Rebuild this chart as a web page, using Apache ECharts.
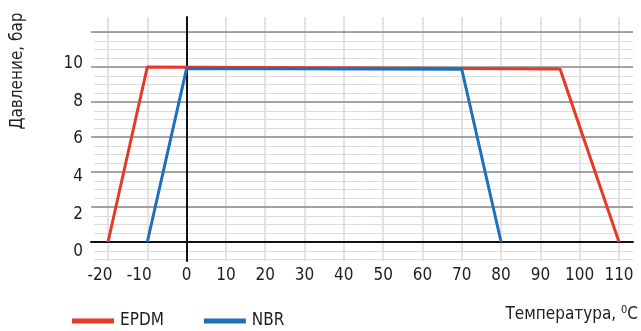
<!DOCTYPE html>
<html>
<head>
<meta charset="utf-8">
<script src="https://cdn.jsdelivr.net/npm/echarts@6/dist/echarts.min.js"></script>
<style>html,body{margin:0;padding:0;background:#fff}#c{width:641px;height:331px}</style>
</head>
<body>
<div id="c"></div>
<script>
// ---- data ----
const seriesNames = ['EPDM', 'NBR'];
const epdmData = [[-20, 0], [-10, 10], [95, 9.88], [110, 0]];
const nbrData = [[-10, 0], [0, 9.92], [70, 9.87], [80, 0]];
const xTicks = { min: -20, max: 110, step: 10 };
const yTicks = { min: 0, max: 10, step: 2 };
const xTitle = 'Температура, ';
const xTitleSup = '0';
const xTitleUnit = 'C';
const yTitle = 'Давление, бар';

const FONT = '"Liberation Sans Narrow", "DejaVu Sans Condensed", "Roboto Condensed", sans-serif';
const FS = 17;
const TXT = '#1e1e1e';
const RED = '#e5392a';
const BLUE = '#1f6fba';

const chart = echarts.init(document.getElementById('c'), null, { renderer: 'canvas' });
const hidden = { show: false };
chart.setOption({
  animation: false,
  backgroundColor: '#fff',
  grid: [
    { left: 108, right: 22, top: 17, bottom: 70 },      // 0 data grid
    { left: 94, right: 8, top: 32, bottom: 71.5 },      // 1 minor horizontal lines
    { left: 91, right: 8, top: 32, bottom: 89 },        // 2 major horizontal lines + baseline
    { left: 94, right: 8, top: 63.7, bottom: 79.3 }     // 3 y labels
  ],
  xAxis: [
    {
      gridIndex: 0, type: 'value', min: xTicks.min, max: xTicks.max, interval: xTicks.step, z: 0,
      axisLine: { show: false, onZero: false }, axisTick: hidden,
      splitLine: { show: true, lineStyle: { color: '#dadada', width: 1.5 } },
      axisLabel: {
        margin: 6, fontSize: FS, fontFamily: FONT, color: TXT,
        formatter: v => v < 0 ? '{n|' + v + '}' : String(v),
        rich: { n: { fontSize: FS, fontFamily: FONT, color: TXT, padding: [0, 16, 0, 0] } }
      }
    },
    { gridIndex: 1, type: 'value', min: 0, max: 1, show: false },
    {
      gridIndex: 2, type: 'value', min: 0, max: 1, z: 3,
      axisLine: { show: true, onZero: false, lineStyle: { color: '#111', width: 2 } },
      axisTick: hidden, axisLabel: hidden, splitLine: hidden
    },
    { gridIndex: 3, type: 'value', min: 0, max: 1, show: false }
  ],
  yAxis: [
    {
      gridIndex: 0, type: 'value', min: -19 / 17.5, max: 225 / 17.5, z: 4,
      axisLine: { show: true, onZero: true, lineStyle: { color: '#111', width: 2 } },
      axisTick: hidden, axisLabel: hidden, splitLine: hidden
    },
    {
      gridIndex: 1, type: 'value', min: -1, max: 12, interval: 0.5, z: 1,
      axisLine: hidden, axisTick: hidden, axisLabel: hidden,
      splitLine: { show: true, lineStyle: { color: '#dcdcdc', width: 1 } }
    },
    {
      gridIndex: 2, type: 'value', min: 0, max: 12, interval: 2, z: 2,
      axisLine: hidden, axisTick: hidden, axisLabel: hidden,
      splitLine: { show: true, lineStyle: { color: '#8a8a8a', width: 1.5 } }
    },
    {
      gridIndex: 3, type: 'value', min: yTicks.min, max: yTicks.max, interval: yTicks.step,
      axisLine: hidden, axisTick: hidden, splitLine: hidden,
      axisLabel: { margin: 11, fontSize: FS, fontFamily: FONT, color: TXT }
    }
  ],
  legend: {
    data: seriesNames, left: 72, top: 311, padding: 0, icon: 'rect',
    itemWidth: 42, itemHeight: 5, itemGap: 40,
    textStyle: { fontSize: FS, fontFamily: FONT, color: TXT, lineHeight: 20, padding: [0, 0, 0, 1] }
  },
  title: {
    text: xTitle + '{s|' + xTitleSup + '}' + xTitleUnit,
    right: 3, top: 304.5, padding: 0,
    textStyle: {
      fontSize: FS, fontWeight: 'normal', fontFamily: FONT, color: TXT, lineHeight: 20,
      rich: { s: { fontSize: 11, fontFamily: FONT, color: TXT, verticalAlign: 'top', lineHeight: 12 } }
    }
  },
  graphic: [{
    type: 'text', x: 18, y: 71, rotation: Math.PI / 2,
    style: { text: yTitle, font: FS + 'px ' + FONT, fill: TXT, textAlign: 'center', textVerticalAlign: 'middle' }
  }],
  series: [
    {
      name: seriesNames[0], type: 'line', xAxisIndex: 0, yAxisIndex: 0, data: epdmData,
      showSymbol: false, symbol: 'none', z: 10,
      lineStyle: { color: RED, width: 3 }, itemStyle: { color: RED }
    },
    {
      name: seriesNames[1], type: 'line', xAxisIndex: 0, yAxisIndex: 0, data: nbrData,
      showSymbol: false, symbol: 'none', z: 11,
      lineStyle: { color: BLUE, width: 3 }, itemStyle: { color: BLUE }
    }
  ]
});
</script>
</body>
</html>
